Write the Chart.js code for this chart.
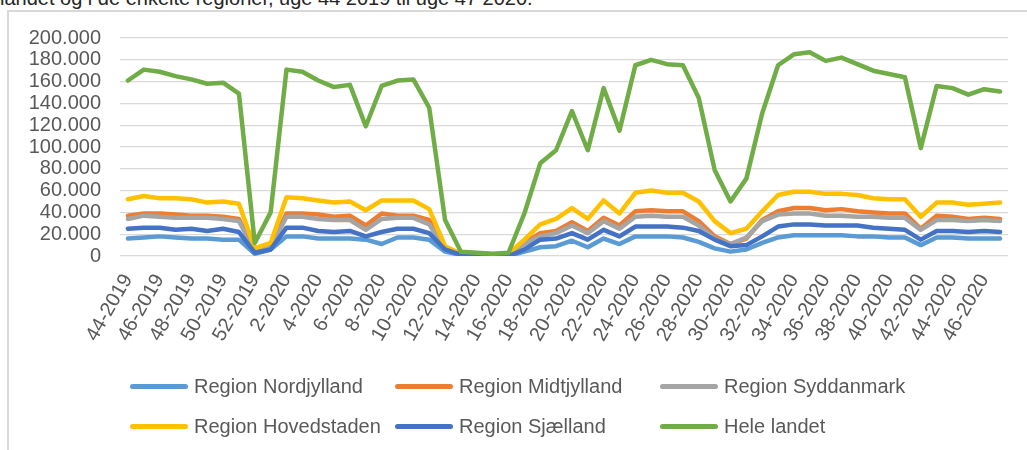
<!DOCTYPE html>
<html>
<head>
<meta charset="utf-8">
<script src="https://cdn.jsdelivr.net/npm/chart.js@4"></script>
<style>
  body { margin: 0; background: #fff; width: 1027px; height: 450px; overflow: hidden; position: relative; font-family: "Liberation Sans", Arial, sans-serif; }
  #caption { position: absolute; left: 0; top: -12px; font-size: 20px; line-height: 20px; color: #262626; white-space: nowrap; }
  #frame { position: absolute; left: 7px; top: 10px; width: 1040px; height: 460px; border: 2px solid #d9d9d9; box-sizing: border-box; }
  #chart_canvas { position: absolute; left: 0; top: 0; }
  #legend { position: absolute; left: 130px; top: 372px; display: grid; grid-template-columns: 265px 265px 265px; row-gap: 12px; }
  .item { display: flex; align-items: center; height: 28px; font-size: 20px; color: #595959; white-space: nowrap; }
  .swatch { width: 58px; height: 5px; border-radius: 3px; margin-right: 6px; }
</style>
</head>
<body>
<div id="caption">landet og i de enkelte regioner, uge 44 2019 til uge 47 2020.</div>
<div id="frame"></div>
<canvas id="chart_canvas" width="1027" height="450"></canvas>
<div id="legend"></div>
<script>
// uge 44-2019 .. 47-2020
var weeks = [];
for (var w = 44; w <= 52; w++) weeks.push(w + "-2019");
for (var w = 1; w <= 47; w++) weeks.push(w + "-2020");

var nordjylland = [16000,17000,18000,17000,16000,16000,15000,15000,2000,6000,18000,18000,16000,16000,16000,15000,11000,17000,17000,15000,4000,1000,0,0,0,4000,8000,9000,14000,8000,16000,11000,18000,18000,18000,17000,13000,7000,4000,6000,12000,17000,19000,19000,19000,19000,18000,18000,17000,17000,10000,17000,17000,16000,16000,16000];
var midtjylland = [37000,39000,39000,38000,37000,37000,36000,34000,5000,9000,39000,39000,38000,36000,37000,28000,39000,37000,37000,33000,7000,1000,500,500,500,12000,21000,23000,31000,23000,35000,28000,41000,42000,41000,41000,32000,18000,11000,16000,33000,41000,44000,44000,42000,43000,41000,40000,39000,39000,25000,37000,36000,34000,35000,34000];
var syddanmark = [34000,37000,36000,35000,35000,35000,34000,32000,5000,8000,36000,36000,34000,33000,33000,24000,34000,35000,35000,29000,7000,1000,500,500,500,11000,18000,21000,28000,21000,32000,25000,36000,37000,36000,36000,28000,16000,11000,17000,32000,38000,39000,39000,37000,37000,36000,36000,35000,35000,24000,33000,33000,32000,33000,32000];
var hovedstaden = [52000,55000,53000,53000,52000,49000,50000,48000,7000,12000,54000,53000,51000,49000,50000,42000,51000,51000,51000,43000,9000,2000,1000,1000,2000,15000,29000,34000,44000,34000,51000,39000,58000,60000,58000,58000,50000,32000,21000,25000,41000,56000,59000,59000,57000,57000,56000,53000,52000,52000,36000,49000,49000,47000,48000,49000];
var sjaelland = [25000,26000,26000,24000,25000,23000,25000,22000,3000,6000,26000,26000,23000,22000,23000,18000,22000,25000,25000,21000,6000,1000,0,0,0,6000,15000,16000,21000,15000,24000,18000,27000,27000,27000,26000,23000,15000,9000,10000,18000,27000,29000,29000,28000,28000,28000,26000,25000,24000,15000,23000,23000,22000,23000,22000];
var heleLandet = [161000,171000,169000,165000,162000,158000,159000,149000,12000,40000,171000,169000,161000,155000,157000,119000,156000,161000,162000,136000,33000,4000,3000,2000,3000,39000,85000,97000,133000,97000,154000,115000,175000,180000,176000,175000,145000,79000,50000,71000,131000,175000,185000,187000,179000,182000,176000,170000,167000,164000,99000,156000,154000,148000,153000,151000];

var seriesNames = ["Region Nordjylland","Region Midtjylland","Region Syddanmark","Region Hovedstaden","Region Sjælland","Hele landet"];
var seriesData = [nordjylland, midtjylland, syddanmark, hovedstaden, sjaelland, heleLandet];
var seriesColors = ["#5B9BD5","#ED7D31","#A5A5A5","#FFC000","#4472C4","#70AD47"];
var yTicks = [0,20000,40000,60000,80000,100000,120000,140000,160000,180000,200000];

function dkNumber(v) {
  return String(v).replace(/\B(?=(\d{3})+(?!\d))/g, ".");
}

var datasets = seriesNames.map(function (name, i) {
  return {
    label: name,
    data: seriesData[i],
    borderColor: seriesColors[i],
    backgroundColor: seriesColors[i],
    borderWidth: 4.5,
    pointRadius: 0,
    tension: 0,
    borderJoinStyle: "round",
    borderCapStyle: "round",
    order: seriesNames.length - i  // later series drawn on top, like Excel
  };
});

var context = document.getElementById("chart_canvas").getContext("2d");
var chart = new Chart(context, {
  type: "line",
  data: { labels: weeks, datasets: datasets },
  options: {
    responsive: false,
    animation: false,
    devicePixelRatio: 1,
    layout: { padding: { top: 38, right: 18, bottom: 84, left: 0 } },
    plugins: { legend: { display: false }, tooltip: { enabled: false } },
    scales: {
      x: {
        offset: true,
        grid: { display: false },
        border: { display: false },
        afterFit: function (scale) { scale.height = 110; },
        ticks: {
          autoSkip: false,
          minRotation: 60,
          maxRotation: 60,
          padding: 6,
          color: "#595959",
          font: { family: "'Liberation Sans', Arial, sans-serif", size: 20 },
          callback: function (val, idx) { return idx % 2 === 0 ? this.getLabelForValue(val) : ""; }
        }
      },
      y: {
        min: 0,
        max: 200000,
        afterFit: function (scale) { scale.width = 120; },
        afterBuildTicks: function (scale) { scale.ticks = yTicks.map(function (v) { return { value: v }; }); },
        grid: { color: "#d9d9d9", lineWidth: 1.3, drawTicks: false },
        border: { display: false },
        ticks: {
          autoSkip: false,
          padding: 19,
          color: "#595959",
          font: { family: "'Liberation Sans', Arial, sans-serif", size: 20 },
          callback: function (v) { return dkNumber(v); }
        }
      }
    }
  }
});

// legend in Excel's fixed columns, built from the chart datasets
var legendBox = document.getElementById("legend");
chart.data.datasets.forEach(function (ds) {
  var item = document.createElement("div");
  item.className = "item";
  var sw = document.createElement("span");
  sw.className = "swatch";
  sw.style.background = ds.borderColor;
  item.appendChild(sw);
  item.appendChild(document.createTextNode(ds.label));
  legendBox.appendChild(item);
});
</script>
</body>
</html>
